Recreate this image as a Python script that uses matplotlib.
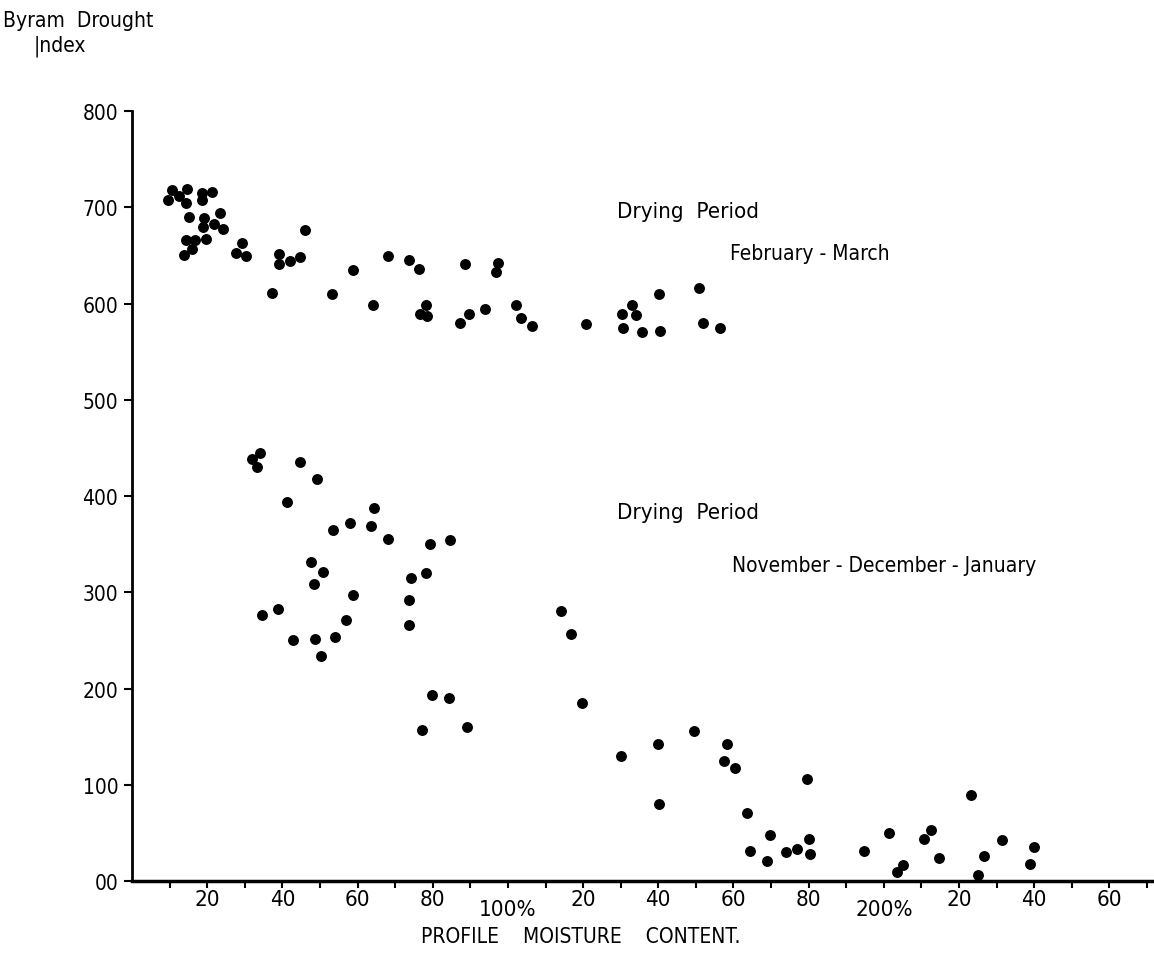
import matplotlib
matplotlib.use('Agg')
import matplotlib.pyplot as plt
from matplotlib import font_manager
from matplotlib.font_manager import FontProperties

# Byram Drought Index vs profile moisture content (%), two drying periods
feb_mar_x = [10.7, 14.7, 9.6, 12.5, 14.4, 18.7, 21.3, 18.7, 23.5, 15.2,
             19.2, 21.9, 18.9, 24.3, 14.4, 16.8, 19.7, 16.0, 13.9, 29.3,
             27.7, 30.4, 39.2, 39.2, 42.1, 44.8, 46.1, 37.3, 58.7, 68.0,
             73.6, 76.3, 88.5, 97.3, 96.8, 53.3, 64.0, 78.1, 76.5, 78.4,
             87.2, 89.6, 93.9, 102.1, 103.5, 106.4, 120.8, 133.1, 130.4, 134.1,
             130.7, 135.7, 140.5, 140.3, 150.9, 152.0, 156.3]
feb_mar_y = [718, 719, 708, 712, 704, 715, 716, 708, 694, 690,
             689, 683, 680, 678, 666, 666, 667, 657, 651, 663,
             653, 649, 652, 641, 644, 648, 676, 611, 635, 649,
             645, 636, 641, 642, 633, 610, 599, 599, 589, 587,
             580, 589, 594, 599, 585, 577, 579, 599, 589, 588,
             575, 571, 572, 610, 616, 580, 575]

nov_jan_x = [34.1, 32.0, 33.3, 44.8, 49.1, 41.3, 64.3, 58.1, 63.7, 53.6,
             68.0, 79.2, 84.5, 47.7, 50.7, 48.3, 74.1, 78.1, 58.7, 73.6,
             38.9, 34.7, 56.8, 73.6, 54.1, 48.8, 42.9, 50.4, 79.7, 84.3,
             77.1, 89.1, 114.1, 116.8, 119.7, 130.1, 140.0, 140.3, 149.6, 158.4,
             157.6, 160.5, 163.5, 179.5, 169.6, 164.5, 168.8, 173.9, 176.8, 180.0,
             180.3, 194.7, 201.3, 205.1, 203.5, 210.7, 212.5, 214.7, 223.2, 225.1,
             226.7, 231.5, 240.0, 238.9]
nov_jan_y = [445, 439, 430, 435, 418, 394, 388, 372, 369, 365,
             355, 350, 354, 332, 321, 309, 315, 320, 297, 292,
             283, 276, 271, 266, 254, 252, 250, 234, 193, 190,
             157, 160, 281, 257, 185, 130, 142, 80, 156, 142,
             125, 118, 71, 106, 48, 31, 21, 30, 33, 44,
             28, 31, 50, 17, 9, 44, 53, 24, 89, 6,
             26, 43, 35, 18]

x_ticks = [20, 40, 60, 80, 100, 120, 140, 160, 180, 200, 220, 240, 260]
x_labels = ['20', '40', '60', '80', '100%', '20', '40', '60', '80', '200%', '20', '40', '60']
y_ticks = [0, 100, 200, 300, 400, 500, 600, 700, 800]
y_labels = ['00', '100', '200', '300', '400', '500', '600', '700', '800']


def narrow_font():
    # look for a condensed sans face; the scanned original uses one
    prefs = ['liberationsansnarrow-regular', 'dejavusanscondensed.ttf',
             'robotocondensed-regular', 'opensanscondensed', 'notosans-condensed.ttf']
    files = [f.fname for f in font_manager.fontManager.ttflist]
    files += font_manager.findSystemFonts()
    for p in prefs:
        for f in files:
            if p in f.lower().replace(' ', '').replace('_', ''):
                return f
    return None


path = narrow_font()
if path:
    fp = lambda size: FontProperties(fname=path, size=size)
    scale = 1.0
else:
    fp = lambda size: FontProperties(family='DejaVu Sans', size=size)
    scale = 0.82

fig = plt.figure(figsize=(11.54, 9.79), dpi=100)
ax = fig.add_axes([0.1144, 0.099, 0.886, 0.7865])

ax.scatter(feb_mar_x, feb_mar_y, s=62, color='black', linewidths=0, zorder=3)
ax.scatter(nov_jan_x, nov_jan_y, s=62, color='black', linewidths=0, zorder=3)

ax.set_xlim(0, 272)
ax.set_ylim(0, 800)
ax.spines['top'].set_visible(False)
ax.spines['right'].set_visible(False)
ax.spines['left'].set_linewidth(2)
ax.spines['bottom'].set_linewidth(2.5)

ax.set_xticks(x_ticks)
ax.set_xticklabels(x_labels, fontproperties=fp(16 * scale))
ax.set_xticks([v - 10 for v in x_ticks] + [270], minor=True)
ax.tick_params(axis='x', which='both', direction='out', length=5, width=1.5, pad=1)
for lab in ax.get_xticklabels():
    if lab.get_text().endswith('%'):
        lab.set_y(-0.012)

ax.set_yticks(y_ticks)
ax.set_yticklabels(y_labels, fontproperties=fp(15 * scale))
ax.tick_params(axis='y', direction='out', length=6, width=1.5, pad=4)

ax.text(129, 696, 'Drying  Period', fontproperties=fp(16 * scale), va='center', ha='left')
ax.text(159, 653, 'February - March', fontproperties=fp(15 * scale), va='center', ha='left')
ax.text(129, 383, 'Drying  Period', fontproperties=fp(16 * scale), va='center', ha='left')
ax.text(159.5, 328, 'November - December - January', fontproperties=fp(15 * scale),
        va='center', ha='left')

fig.text(0.003, 0.979, 'Byram  Drought', fontproperties=fp(15 * scale), va='center', ha='left')
fig.text(0.029, 0.953, '|ndex', fontproperties=fp(15 * scale), va='center', ha='left')
fig.text(0.503, 0.043, 'PROFILE    MOISTURE    CONTENT.', fontproperties=fp(15 * scale),
         va='center', ha='center')

fig.savefig('out.png', dpi=100)
